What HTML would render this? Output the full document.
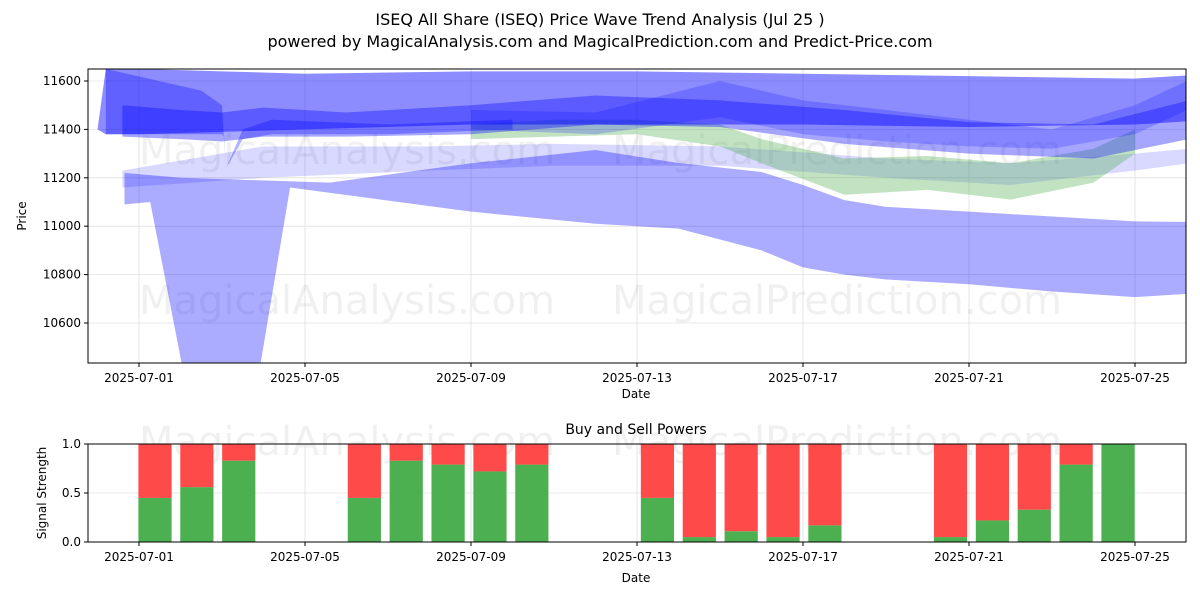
<!DOCTYPE html>
<html><head><meta charset="utf-8">
<style>
body{margin:0;background:#fff;font-family:"Liberation Sans","DejaVu Sans",sans-serif;}
svg text{font-family:"DejaVu Sans","Liberation Sans",sans-serif;}
</style></head>
<body>
<svg id="chart" width="1200" height="600" xmlns="http://www.w3.org/2000/svg">
<rect width="1200" height="600" fill="#fff"/>
<text x="600" y="25" text-anchor="middle" font-size="16">ISEQ All Share (ISEQ) Price Wave Trend Analysis (Jul 25 )</text>
<text x="600" y="47" text-anchor="middle" font-size="16">powered by MagicalAnalysis.com and MagicalPrediction.com and Predict-Price.com</text>
<g id="topPanel"></g>
<g id="botPanel"></g>
</svg>
<script>
const tickDays=[0,4,8,12,16,20,24];
const tickLabels=["2025-07-01","2025-07-05","2025-07-09","2025-07-13","2025-07-17","2025-07-21","2025-07-25"];
const priceTicks=[10600,10800,11000,11200,11400,11600];
const b1Days=[-1,-0.8,0,2,4,8,12,16,20,24,25.9];
const b1Hi=[11400,11650,11650,11640,11630,11640,11640,11630,11620,11610,11630];
const b1Lo=[11400,11380,11380,11390,11400,11420,11420,11420,11410,11420,11440];
const b2Days=[-0.4,1,2,3,5,8,11,14,17,20,23,25.3];
const b2Hi=[11500,11480,11470,11490,11470,11500,11540,11520,11480,11430,11420,11520];
const b2Lo=[11370,11360,11350,11370,11370,11380,11420,11410,11340,11300,11280,11360];
const b3Days=[-0.8,1.5,2.0,2.05,2.1,2.5,3.2,6,9];
const b3Hi=[11650,11560,11500,11350,11240,11400,11440,11420,11440];
const b3Lo=[11380,11380,11380,11370,11240,11360,11380,11380,11400];
const gDays=[8,10,12,14,15,17,19,21,23,24];
const gHi=[11420,11440,11440,11420,11360,11280,11290,11260,11320,11400];
const gLo=[11360,11370,11380,11330,11260,11130,11150,11110,11180,11300];
const b5Days=[-0.4,3,7,10,14,18,21,24,25.3];
const b5Hi=[11230,11330,11330,11340,11330,11280,11260,11300,11320];
const b5Lo=[11160,11200,11230,11250,11250,11200,11170,11230,11260];
const b6Days=[8,11,14,16,18,20,22,24,25.5];
const b6Hi=[11480,11470,11600,11520,11480,11440,11400,11500,11620];
const b6Lo=[11400,11380,11450,11380,11350,11330,11320,11380,11500];
const lowUpDays=[-0.35,1.0,4.6,8,11,13,15,16,17,18,20,22,24,25.8];
const lowUpVals=[11220,11200,11180,11260,11315,11261,11224,11170,11108,11080,11060,11040,11020,11017];
const lowLoDays=[-0.35,0.27,1.18,2.8,3.64,8,11,13,15,16,17,18,20,22,24,25.9];
const lowLoVals=[11090,11100,10300,10300,11160,11060,11010,10990,10900,10830,10800,10780,10760,10730,10707,10728];
const barDays=[1,2,3,6,7,8,9,10,13,14,15,16,17,20,21,22,23,24];
const buyVals=[0.45,0.56,0.83,0.45,0.83,0.79,0.72,0.79,0.45,0.05,0.11,0.05,0.17,0.05,0.22,0.33,0.79,1.0];

const NS="http://www.w3.org/2000/svg";
function mk(tag,attrs,parent){const e=document.createElementNS(NS,tag);for(const k in attrs)e.setAttribute(k,attrs[k]);parent.appendChild(e);return e;}
const L=88,R=1186,T1=69,B1=363,T2=444,B2=542;
const xs=d=>139+d*41.5;
const ys=v=>81+(11600-v)*0.242;
const ys2=v=>B2-v*(B2-T2);
const barX=d=>155+(d-1)*41.87;
const topG=document.getElementById('topPanel'),botG=document.getElementById('botPanel');
const defs=mk('defs',{},topG);
const cp=mk('clipPath',{id:'c1'},defs);mk('rect',{x:L,y:T1,width:R-L,height:B1-T1},cp);
tickDays.forEach(d=>{const g=mk('line',{x1:xs(d),x2:xs(d),y1:T1,y2:B1,stroke:'#e0e0e0','stroke-width':0.8},topG);});
priceTicks.forEach(v=>{const g=mk('line',{x1:L,x2:R,y1:ys(v),y2:ys(v),stroke:'#e0e0e0','stroke-width':0.8},topG);});
[[347,300,'MagicalAnalysis.com'],[837,300,'MagicalPrediction.com'],[347,150,'MagicalAnalysis.com'],[837,150,'MagicalPrediction.com']].forEach(w=>{const t=mk('text',{x:w[0],y:w[1]+14,'text-anchor':'middle','font-size':40,fill:'#000','fill-opacity':0.06},topG);t.textContent=w[2];});
const bandG=mk('g',{'clip-path':'url(#c1)'},topG);
function band(dU,vU,dL,vL,color,op,name){
  let pts=dU.map((d,i)=>xs(d)+','+ys(vU[i]));
  for(let i=dL.length-1;i>=0;i--)pts.push(xs(dL[i])+','+ys(vL[i]));
  const p=mk('polygon',{points:pts.join(' '),fill:color,'fill-opacity':op},bandG);
  
  
}
band(lowUpDays,lowUpVals,lowLoDays,lowLoVals,'#0000ff',0.33,'wave-band-low');
band(b5Days,b5Hi,b5Days,b5Lo,'#0000ff',0.15,'wave-band-mid');
band(gDays,gHi,gDays,gLo,'#4caf50',0.35,'wave-band-green');
band(b1Days,b1Hi,b1Days,b1Lo,'#0000ff',0.45,'wave-band-top');
band(b6Days,b6Hi,b6Days,b6Lo,'#0000ff',0.2,'wave-band-right');
band(b2Days,b2Hi,b2Days,b2Lo,'#0000ff',0.35,'wave-band-dark');
band(b3Days,b3Hi,b3Days,b3Lo,'#0000ff',0.3,'wave-band-spike');
mk('rect',{x:L,y:T1,width:R-L,height:B1-T1,fill:'none',stroke:'#000','stroke-width':1},topG);
tickDays.forEach((d,i)=>{mk('line',{x1:xs(d),x2:xs(d),y1:B1,y2:B1+4,stroke:'#000'},topG);const t=mk('text',{x:xs(d),y:B1+19,'text-anchor':'middle','font-size':12},topG);t.textContent=tickLabels[i];});
priceTicks.forEach(v=>{mk('line',{x1:L-4,x2:L,y1:ys(v),y2:ys(v),stroke:'#000'},topG);const t=mk('text',{x:L-7,y:ys(v)+4,'text-anchor':'end','font-size':12},topG);t.textContent=v;});
let t=mk('text',{x:636,y:398,'text-anchor':'middle','font-size':12},topG);t.textContent='Date';
t=mk('text',{x:26,y:216,'text-anchor':'middle','font-size':12,transform:'rotate(-90 26 216)'},topG);t.textContent='Price';

[[347,441,'MagicalAnalysis.com'],[837,441,'MagicalPrediction.com']].forEach(w=>{const t=mk('text',{x:w[0],y:w[1]+14,'text-anchor':'middle','font-size':40,fill:'#000','fill-opacity':0.06},botG);t.textContent=w[2];});
tickDays.forEach(d=>{mk('line',{x1:xs(d),x2:xs(d),y1:T2,y2:B2,stroke:'#e0e0e0','stroke-width':0.8},botG);});
[0,0.5,1].forEach(v=>{mk('line',{x1:L,x2:R,y1:ys2(v),y2:ys2(v),stroke:'#e0e0e0','stroke-width':0.8},botG);});
const bw=0.8*41.5;
barDays.forEach((d,i)=>{
  const cx=barX(d);
  const g=mk('rect',{x:cx-bw/2,y:ys2(buyVals[i]),width:bw,height:B2-ys2(buyVals[i]),fill:'#4caf50'},botG);
  
  
  const r=mk('rect',{x:cx-bw/2,y:T2,width:bw,height:ys2(buyVals[i])-T2,fill:'#ff4a4a'},botG);
  
  
});
mk('rect',{x:L,y:T2,width:R-L,height:B2-T2,fill:'none',stroke:'#000','stroke-width':1},botG);
tickDays.forEach((d,i)=>{mk('line',{x1:xs(d),x2:xs(d),y1:B2,y2:B2+4,stroke:'#000'},botG);const t=mk('text',{x:xs(d),y:B2+19,'text-anchor':'middle','font-size':12},botG);t.textContent=tickLabels[i];});
[0,0.5,1].forEach(v=>{mk('line',{x1:L-4,x2:L,y1:ys2(v),y2:ys2(v),stroke:'#000'},botG);const t=mk('text',{x:L-7,y:ys2(v)+4,'text-anchor':'end','font-size':12},botG);t.textContent=v.toFixed(1);});
t=mk('text',{x:636,y:434,'text-anchor':'middle','font-size':14},botG);t.textContent='Buy and Sell Powers';
t=mk('text',{x:636,y:582,'text-anchor':'middle','font-size':12},botG);t.textContent='Date';
t=mk('text',{x:46,y:493,'text-anchor':'middle','font-size':12,transform:'rotate(-90 46 493)'},botG);t.textContent='Signal Strength';
</script>
</body></html>
